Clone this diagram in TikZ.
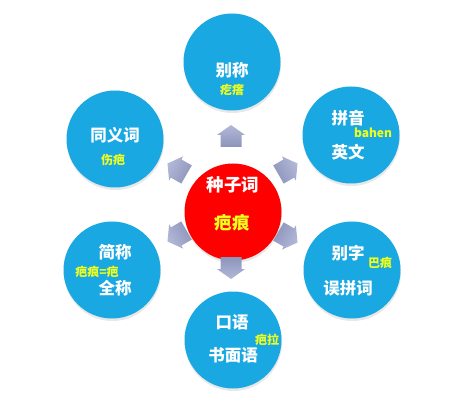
\documentclass[tikz,border=0pt]{standalone}
\usepackage{fontspec}
\newfontfamily\cjk{Noto Sans CJK SC}
\usetikzlibrary{shadows}
\definecolor{bubble}{HTML}{1AA8E2}
\definecolor{seed}{HTML}{FF0000}
\definecolor{hint}{HTML}{EEFF1E}
\definecolor{arrowc}{HTML}{B2B8D8}
\definecolor{arrowd}{HTML}{8C94BA}
\tikzset{
  x=1pt, y=1pt,
  bubblenode/.style={circle, fill=bubble, minimum size=97pt, inner sep=0pt,
    drop shadow={shadow xshift=0.5pt, shadow yshift=-2.5pt, opacity=0.18}},
  seednode/.style={bubblenode, fill=seed},
  mainlabel/.style={font=\cjk\bfseries\fontsize{16.5}{18}\selectfont, text=white, inner sep=0pt},
  biglabel/.style={font=\cjk\bfseries\fontsize{17.5}{19}\selectfont, text=white, inner sep=0pt},
  hintlabel/.style={font=\cjk\bfseries\fontsize{12}{13}\selectfont, text=hint, inner sep=0pt},
  seedhint/.style={font=\cjk\bfseries\fontsize{17.5}{19}\selectfont, text=hint, inner sep=0pt},
  housearrow/.style={top color=arrowc, bottom color=arrowd, draw=none},
}
\newcommand{\outarrow}[4]{% name, x, y, angle
  \coordinate (#1) at (#2,#3);
  \begin{scope}[shift={(#1)}, rotate=#4]
    \path[housearrow, shading angle=#4-90]
      (-11,-10.5) -- (1,-10.5) -- (1,-14) -- (11,0) -- (1,14) -- (1,10.5) -- (-11,10.5) -- cycle;
  \end{scope}}
\begin{document}
\begin{tikzpicture}
\useasboundingbox (0,0) rectangle (461,-409);
\fill[white] (0,0) rectangle (461,-409);
% circles
\node[bubblenode] (top) at (232,-62) {};
\node[bubblenode] (ul) at (115,-139) {};
\node[bubblenode] (ur) at (351,-135) {};
\node[seednode] (center) at (233,-212) {};
\node[bubblenode] (ll) at (112,-270) {};
\node[bubblenode] (lr) at (352,-270) {};
\node[bubblenode] (bot) at (233,-340) {};
% arrows
\outarrow{a1}{231}{-136}{90}
\outarrow{a2}{177}{-169}{150}
\outarrow{a3}{288}{-169}{30}
\outarrow{a4}{177}{-236}{210}
\outarrow{a5}{288}{-237}{330}
\outarrow{a6}{231}{-268}{270}
% texts
\node[mainlabel] (t1) at (232,-70) {别称};
\node[hintlabel] (h1) at (232,-90) {疙瘩};
\node[mainlabel] (t2) at (115,-135) {同义词};
\node[hintlabel] (h2) at (113,-160) {伤疤};
\node[mainlabel] (t3) at (348,-118) {拼音};
\node[hintlabel, font=\cjk\bfseries\fontsize{12}{13}\selectfont] (h3) at (373,-133) {bahen};
\node[mainlabel] (t3b) at (348,-152) {英文};
\node[biglabel] (t4) at (233,-185) {种子词};
\node[seedhint] (h4) at (232,-223) {疤痕};
\node[mainlabel] (t5) at (115,-252) {简称};
\node[hintlabel] (h5) at (97,-272) {疤痕=疤};
\node[mainlabel] (t5b) at (115,-288) {全称};
\node[mainlabel] (t6) at (348,-253) {别字};
\node[hintlabel] (h6) at (380,-263) {巴痕};
\node[mainlabel] (t6b) at (348,-288) {误拼词};
\node[mainlabel] (t7) at (232,-322) {口语};
\node[hintlabel] (h7) at (267,-340) {疤拉};
\node[mainlabel] (t7b) at (233,-355) {书面语};
\end{tikzpicture}
\end{document}
